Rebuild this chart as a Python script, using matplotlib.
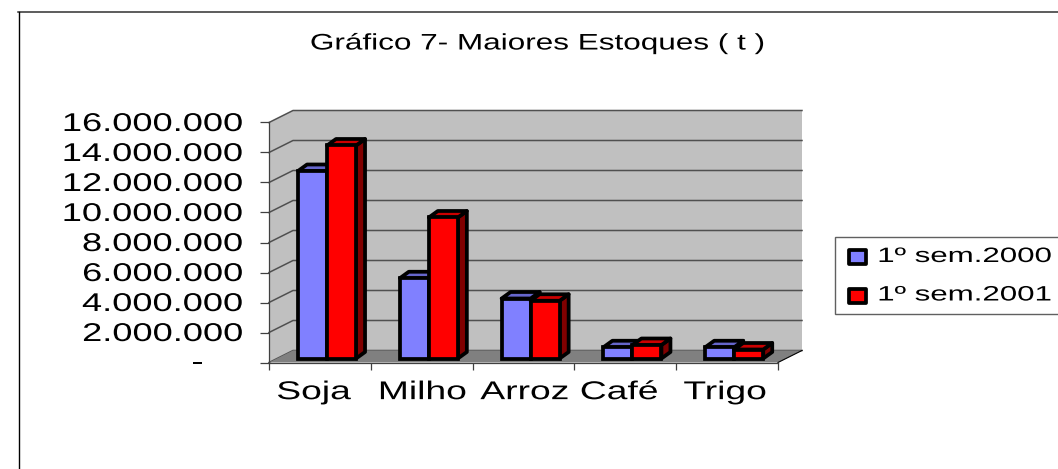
import numpy as np
from matplotlib import pyplot as plt
from matplotlib.lines import Line2D
from matplotlib.patches import Rectangle
from matplotlib.patheffects import AbstractPathEffect
from matplotlib.transforms import Affine2D, ScaledTranslation

categories = ['Soja', 'Milho', 'Arroz', 'Café', 'Trigo']
sem_2000 = [12500000, 5350000, 4000000, 750000, 750000]
sem_2001 = [14200000, 9400000, 3850000, 900000, 600000]
series_names = ['1º sem.2000', '1º sem.2001']
y_ticks = [0, 2000000, 4000000, 6000000, 8000000, 10000000, 12000000, 14000000, 16000000]
y_labels = ['-', '2.000.000', '4.000.000', '6.000.000', '8.000.000',
            '10.000.000', '12.000.000', '14.000.000', '16.000.000']
title = 'Gráfico 7- Maiores Estoques ( t )'

W, H = 1058, 469
plt.rcParams['font.family'] = ['Liberation Sans', 'DejaVu Sans']


class Stretch(AbstractPathEffect):
    # the original text is wider than Arial, stretch the glyphs sideways
    def __init__(self, sx, anchor=0.5):
        super().__init__()
        self.sx = sx
        self.anchor = anchor

    def draw_path(self, renderer, gc, tpath, affine, rgbFace=None):
        box = tpath.get_extents()
        xc = box.x0 + self.anchor * box.width
        stretch = Affine2D().translate(-xc, 0).scale(self.sx, 1).translate(xc, 0)
        renderer.draw_path(gc, tpath, stretch + affine, rgbFace)


def fx(px):
    return px / W


def fy(px):
    return 1 - px / H


def px_shift(dx, dy):
    # offset in screen pixels, y down like in the picture
    return ScaledTranslation(dx / 100, -dy / 100, fig.dpi_scale_trans)


fig = plt.figure(figsize=(W / 100, H / 100), dpi=100)

# outer frame of the chart, only top and left are inside the picture
fig.add_artist(Line2D([fx(18), fx(1058)], [fy(12.5), fy(12.5)], color='#303030', linewidth=1.1))
fig.add_artist(Line2D([fx(18.5), fx(18.5)], [fy(12), fy(469)], color='black', linewidth=1.0))

# front plane of the 3d box in pixels: x 269-778, y 122.5-362.5
ax = fig.add_axes([fx(269), fy(362.5), fx(778 - 269), fy(122.5) - fy(362.5)])
ax.set_xlim(0, len(categories))
ax.set_ylim(0, 16000000)
ax.patch.set_visible(False)

unit_x = len(categories) / (778 - 269)
unit_y = 16000000 / (362.5 - 122.5)
wall_dx, wall_dy = 24 * unit_x, 12 * unit_y
xmax, ymax = len(categories), 16000000

# walls and floor
ax.fill([0, wall_dx, wall_dx, 0], [0, wall_dy, ymax + wall_dy, ymax],
        color='#c0c0c0', clip_on=False, zorder=0, linewidth=0)
ax.fill([wall_dx, xmax + wall_dx, xmax + wall_dx, wall_dx], [wall_dy, wall_dy, ymax + wall_dy, ymax + wall_dy],
        color='#c0c0c0', clip_on=False, zorder=0, linewidth=0)
ax.fill([0, xmax, xmax + wall_dx, wall_dx], [0, 0, wall_dy, wall_dy],
        color='#808080', clip_on=False, zorder=0.5, linewidth=0)
ax.plot([xmax, xmax + wall_dx], [0, wall_dy], color='black', lw=0.8, clip_on=False, zorder=0.6)

# gridlines, diagonal on the side wall then straight on the back wall
for t in y_ticks:
    ax.plot([0, wall_dx, xmax + wall_dx], [t, t + wall_dy, t + wall_dy],
            color='#505050', lw=1.1, clip_on=False, zorder=0.4)

bar_w = 0.285
bar_shift = 0.07
bar_base = 4 * unit_y
depth_x, depth_y = 9 * unit_x, 6.5 * unit_y
edge_w = 2.7
x = np.arange(len(categories)) + 0.5 + bar_shift


def draw_bars(xpos, values, front, top, side, z):
    # depth faces first, the front comes from ax.bar
    for xi, v in zip(xpos, values):
        y0 = bar_base
        y1 = bar_base + v
        ax.fill([xi + bar_w, xi + bar_w + depth_x, xi + bar_w + depth_x, xi + bar_w],
                [y0, y0 + depth_y, y1 + depth_y, y1],
                facecolor=side, edgecolor='black', linewidth=edge_w, joinstyle='round', clip_on=False, zorder=z)
        ax.fill([xi, xi + depth_x, xi + bar_w + depth_x, xi + bar_w],
                [y1, y1 + depth_y, y1 + depth_y, y1],
                facecolor=top, edgecolor='black', linewidth=edge_w, joinstyle='round', clip_on=False, zorder=z)
    ax.bar(xpos, values, width=bar_w, bottom=bar_base, align='edge', color=front,
           edgecolor='black', linewidth=edge_w, zorder=z + 0.1, clip_on=False)


for i in range(len(categories)):
    draw_bars(x[i:i + 1] - bar_w, sem_2000[i:i + 1], '#8080ff', '#6666cc', '#404080', 2 + i)
    draw_bars(x[i:i + 1], sem_2001[i:i + 1], '#ff0000', '#cc0000', '#800000', 2.5 + i)

# axes, ticks and labels
for name in ['top', 'right']:
    ax.spines[name].set_visible(False)
for name in ['left', 'bottom']:
    ax.spines[name].set_color('#404040')
    ax.spines[name].set_linewidth(0.9)
    ax.spines[name].set_zorder(1)

ax.set_yticks(y_ticks, y_labels)
ax.tick_params(axis='y', length=6.5, width=0.9, color='#404040', pad=12, labelsize=18.5)
ax.set_xticks(np.arange(len(categories) + 1))
ax.set_xticklabels([])
ax.tick_params(axis='x', which='major', length=5, width=0.9, color='#404040')
ax.set_xticks(np.arange(len(categories)) + 0.5, categories, minor=True)
ax.tick_params(axis='x', which='minor', length=0, pad=12.7, labelsize=18.5)

for label in ax.get_yticklabels():
    label.set_path_effects([Stretch(1.41, anchor=1)])
    label.set_transform(label.get_transform() + px_shift(0, -1))
# the zero label sits further left because of the number format
zero = ax.get_yticklabels()[0]
zero.set_transform(zero.get_transform() + px_shift(-40, -1.5))

# Excel placed these a bit off the category centres
label_shift = [-6, 1, 1, -6, -2]
for label, dx in zip(ax.get_xticklabels(minor=True), label_shift):
    label.set_path_effects([Stretch(1.45, anchor=0.5)])
    label.set_transform(label.get_transform() + px_shift(dx, 0))

fig.text(fx(538), fy(44), title, ha='center', va='center', fontsize=16.2,
         path_effects=[Stretch(1.4, anchor=0.5)])

# legend box
fig.add_artist(Rectangle((fx(835), fy(314)), fx(1062 - 835), fy(237) - fy(314),
                         transform=fig.transFigure, facecolor='white', edgecolor='#606060', linewidth=1.0))
legend_y = [257.5, 296]
legend_colors = ['#8080ff', '#ff0000']
for name, ly, c in zip(series_names, legend_y, legend_colors):
    fig.add_artist(Rectangle((fx(849), fy(ly + 7)), fx(17), fy(ly - 7) - fy(ly + 7), transform=fig.transFigure,
                             facecolor=c, edgecolor='black', linewidth=edge_w, joinstyle='round'))
    fig.text(fx(878), fy(ly - 1), name, ha='left', va='center', fontsize=15,
             path_effects=[Stretch(1.5, anchor=0)])

fig.savefig('out.png', dpi=100)
